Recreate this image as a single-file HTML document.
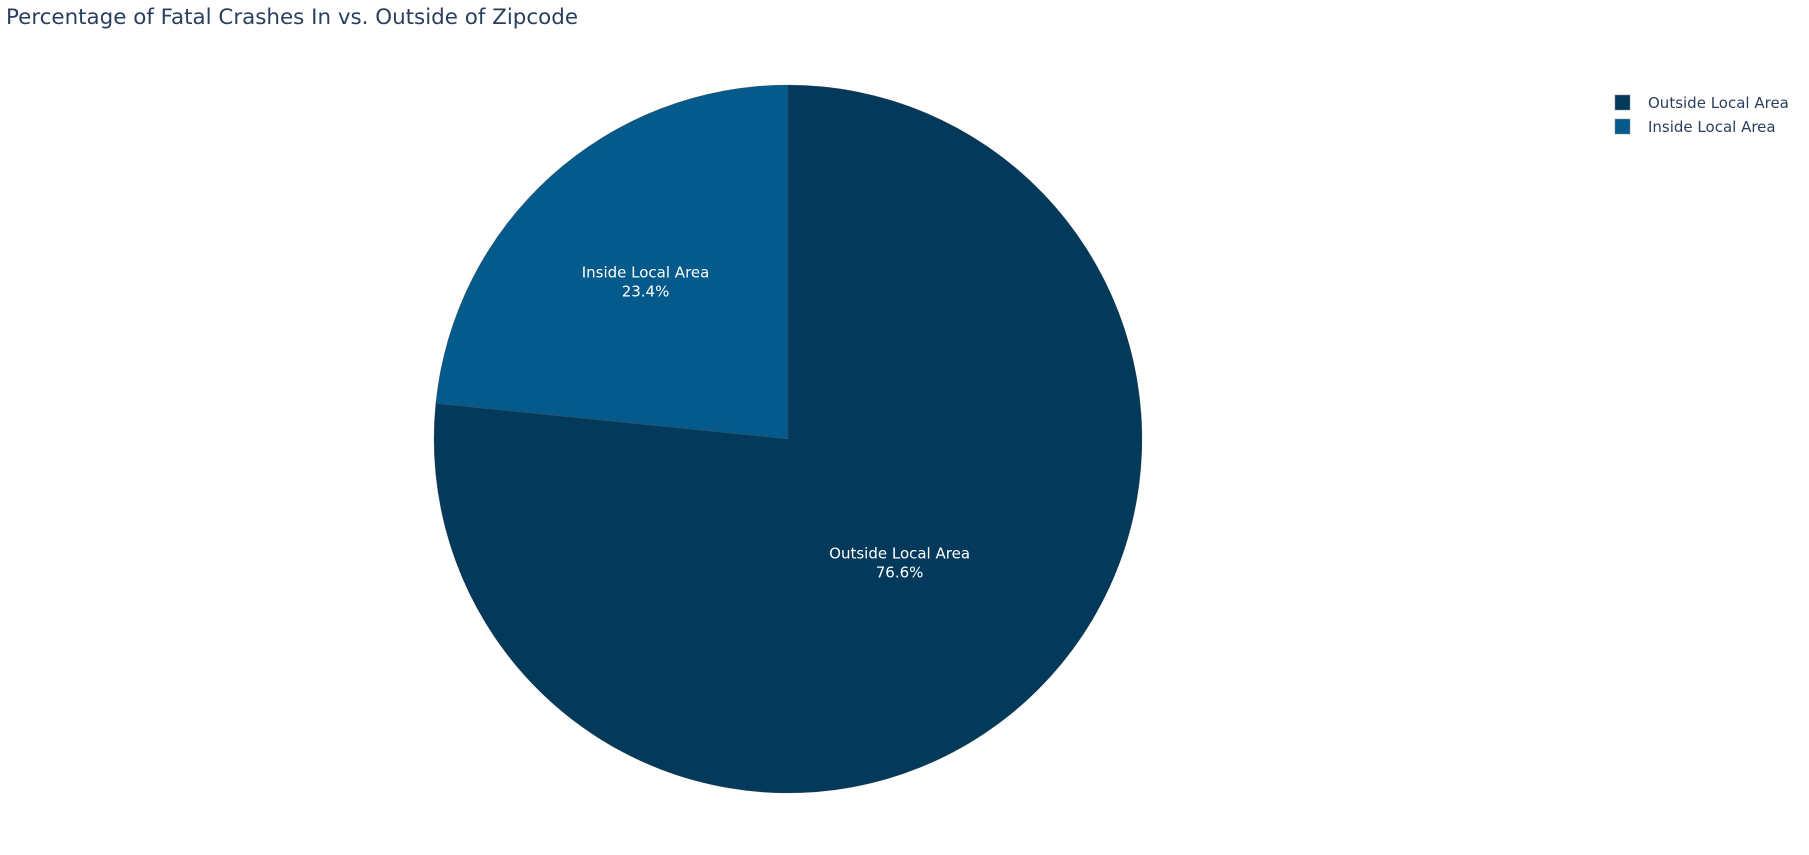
<!DOCTYPE html>
<html><head><meta charset="utf-8"><style>
body{margin:0;background:#fff;}
svg text{font-family:"DejaVu Sans","Liberation Sans",sans-serif;}
</style></head><body>
<svg id="chart" width="1809" height="850" xmlns="http://www.w3.org/2000/svg">
<text x="6" y="24" font-size="21" fill="#2a3f5f" textLength="572" lengthAdjust="spacingAndGlyphs">Percentage of Fatal Crashes In vs. Outside of Zipcode</text>
<g id="slices"></g>
<g id="legend"></g>
</svg>
<script>
const labels=["Outside Local Area","Inside Local Area"];
const values=[76.6,23.4];
const colors=["#03395a","#055a8c"];
const cx=788,cy=439,r=354;
const NS="http://www.w3.org/2000/svg";
const g=document.getElementById('slices');
const lg=document.getElementById('legend');
const total=values.reduce((a,b)=>a+b,0);
let a0=0;
function pt(a,rr){return [cx+rr*Math.sin(a),cy-rr*Math.cos(a)];}
values.forEach((v,i)=>{
  const a1=a0+v/total*2*Math.PI;
  const p0=pt(a0,r),p1=pt(a1,r);
  const large=(a1-a0)>Math.PI?1:0;
  const p=document.createElementNS(NS,'path');
  p.setAttribute('d',`M${cx},${cy}L${p0[0]},${p0[1]}A${r},${r} 0 ${large} 1 ${p1[0]},${p1[1]}Z`);
  p.setAttribute('fill',colors[i]);
  p.setAttribute('stroke','#444');p.setAttribute('stroke-width','0.3');
  
  
  g.appendChild(p);
  const frac=v/total;
  const mid=(a0+a1)/2, lp=pt(mid,r*(frac>0.5?0.47:0.6));
  const t=document.createElementNS(NS,'text');
  t.setAttribute('x',lp[0]);t.setAttribute('y',lp[1]-4);
  t.setAttribute('text-anchor','middle');t.setAttribute('fill','#fff');t.setAttribute('font-size','15');
  
  
  const s1=document.createElementNS(NS,'tspan');s1.setAttribute('x',lp[0]);s1.textContent=labels[i];
  const s2=document.createElementNS(NS,'tspan');s2.setAttribute('x',lp[0]);s2.setAttribute('dy','19');s2.textContent=v.toFixed(1)+'%';
  t.appendChild(s1);t.appendChild(s2);g.appendChild(t);
  const ly=95+i*24;
  const rc=document.createElementNS(NS,'rect');
  rc.setAttribute('x',1615);rc.setAttribute('y',ly);rc.setAttribute('width',15);rc.setAttribute('height',15);
  rc.setAttribute('fill',colors[i]);rc.setAttribute('stroke','#888');rc.setAttribute('stroke-width','0.5');
  
  
  lg.appendChild(rc);
  const lt=document.createElementNS(NS,'text');
  lt.setAttribute('x',1648);lt.setAttribute('y',ly+13);lt.setAttribute('font-size','15');lt.setAttribute('fill','#2a3f5f');
  lt.textContent=labels[i];
  
  
  lg.appendChild(lt);
  a0=a1;
});
</script>
</body></html>
